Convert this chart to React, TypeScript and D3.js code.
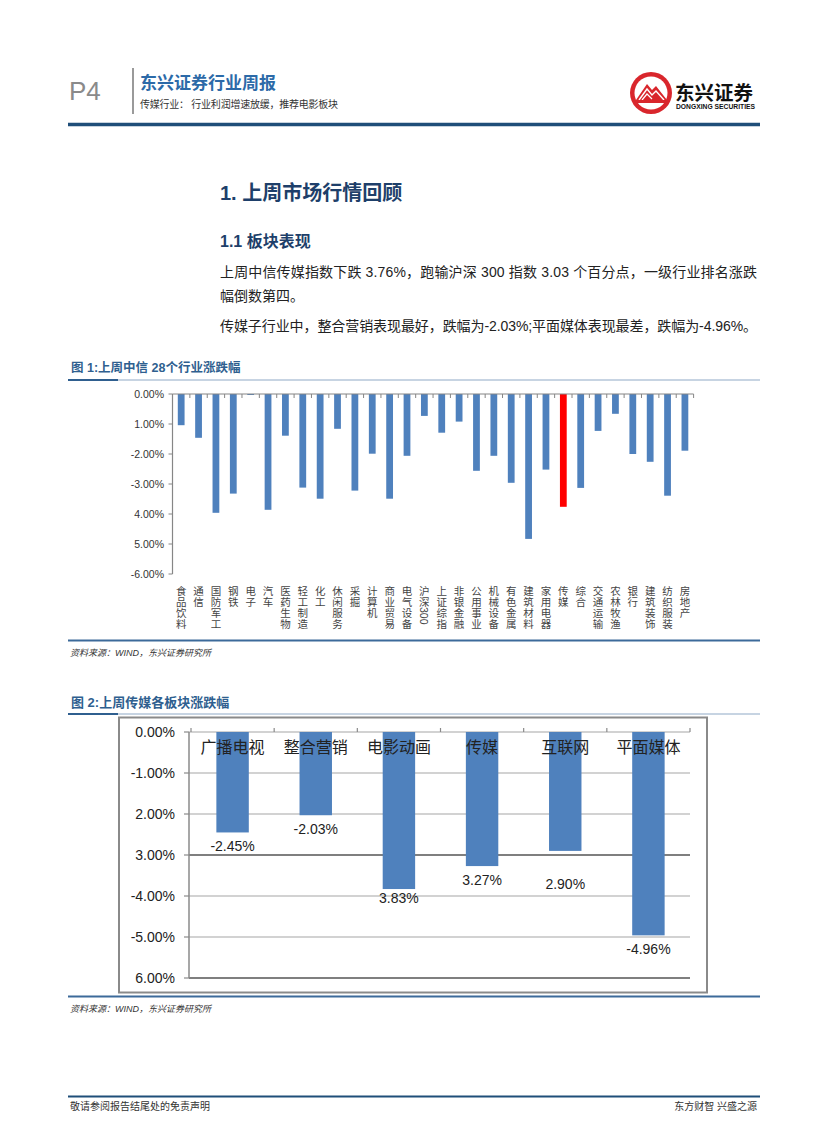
import React from "react";
import * as d3 from "d3";

// ---------- Data ----------
const industries = [
  "食品饮料", "通信", "国防军工", "钢铁", "电子", "汽车", "医药生物", "轻工制造", "化工", "休闲服务",
  "采掘", "计算机", "商业贸易", "电气设备", "沪深300", "上证综指", "非银金融", "公用事业", "机械设备", "有色金属",
  "建筑材料", "家用电器", "传媒", "综合", "交通运输", "农林牧渔", "银行", "建筑装饰", "纺织服装", "房地产",
];
const industryChange = [
  -1.04, -1.46, -3.96, -3.32, -0.03, -3.86, -1.39, -3.12, -3.49, -1.16,
  -3.22, -1.99, -3.49, -2.06, -0.73, -1.29, -0.92, -2.56, -2.06, -2.96,
  -4.83, -2.52, -3.76, -3.13, -1.23, -0.66, -2.0, -2.26, -3.39, -1.89,
];
const highlightIndustry = "传媒";
const industryTickValues = [0, -1, -2, -3, -4, -5, -6];
const industryTickLabels = ["0.00%", "1.00%", "-2.00%", "-3.00%", "4.00%", "5.00%", "-6.00%"];

const sectors = ["广播电视", "整合营销", "电影动画", "传媒", "互联网", "平面媒体"];
const sectorChange = [-2.45, -2.03, -3.83, -3.27, -2.9, -4.96];
const sectorValueLabels = ["-2.45%", "-2.03%", "3.83%", "3.27%", "2.90%", "-4.96%"];
const sectorTickValues = [0, -1, -2, -3, -4, -5, -6];
const sectorTickLabels = ["0.00%", "-1.00%", "2.00%", "3.00%", "-4.00%", "-5.00%", "6.00%"];
const sectorLabelDy = [14, 14, 9, 14, 33, 14];

// ---------- Styles ----------
const LATIN = "'Liberation Sans', Arial, 'Noto Sans CJK SC', sans-serif";
const CJK = "'Liberation Sans', 'Noto Sans CJK SC', sans-serif";
const BAR = "#4f81bd";
const NAVY = "#1f4e79";

function StackedLabel({ label, cx, top }: { label: string; cx: number; top: number }) {
  const tokens = label.match(/[0-9]+|./g) || [];
  const step = 11;
  let y = top;
  const out: React.ReactNode[] = [];
  tokens.forEach((t, i) => {
    if (/^[0-9]+$/.test(t)) {
      const w = t.length * 5.9;
      out.push(
        <text key={i} transform={`translate(${cx},${y}) rotate(90)`} fontSize={10.5} fontFamily={LATIN}
          fill="#444" dominantBaseline="central">{t}</text>
      );
      y += w + 1;
    } else {
      out.push(
        <text key={i} x={cx} y={y + 9.5} fontSize={10.5} fontFamily={CJK} fill="#444" textAnchor="middle">{t}</text>
      );
      y += step;
    }
  });
  return <g>{out}</g>;
}

export default function App() {
  // Chart 1 scales
  const x1 = d3.scaleBand<string>().domain(industries).range([172.5, 693.6]).paddingInner(0.61).paddingOuter(0.305);
  const y1 = d3.scaleLinear().domain([0, -6]).range([394, 574]);
  const step1 = x1.step();
  const x1Start = x1.range()[0];
  const x1End = x1.range()[1];

  // Chart 2 scales
  const x2 = d3.scaleBand<string>().domain(sectors).range([191, 690]).paddingInner(0.61).paddingOuter(0.305);
  const y2 = d3.scaleLinear().domain([0, -6]).range([732, 978]);
  const step2 = x2.step();
  const x2Start = x2.range()[0];
  const x2End = x2.range()[1];
  const axis2X = 189;

  return (
    <svg width={827} height={1122} viewBox="0 0 827 1122"
      style={{ position: "absolute", left: 0, top: 0, background: "#fff" }}>
      <rect x={0} y={0} width={827} height={1122} fill="#fff" />

      {/* Header */}
      <text x={69} y={100} fontSize={26} fill="#8a8a8a" fontFamily={LATIN}>P4</text>
      <line x1={133} x2={133} y1={68} y2={114} stroke="#9a9a9a" strokeWidth={2} />
      <text x={140} y={89} fontSize={17} fontWeight="bold" fill="#2c6aa8" fontFamily={CJK}>东兴证券行业周报</text>
      <text x={140} y={108} fontSize={10} fill="#333" fontFamily={CJK} textLength={198} lengthAdjust="spacing">传媒行业： 行业利润增速放缓，推荐电影板块</text>

      {/* Logo */}
      <g>
        <circle cx={651} cy={93} r={21} fill="#d9262c" />
        <circle cx={651} cy={93} r={16.5} fill="#fff" />
        <path d="M636,100 L647,84 L652,90 L656,86 L667,100 Z" fill="#d9262c" />
        <path d="M639,100 L647,89 L652,95 L656,91 L664,100" fill="none" stroke="#fff" strokeWidth={1.4} />
        <path d="M642,100 L647,94 L652,99" fill="none" stroke="#fff" strokeWidth={1.2} />
        <rect x={634} y={100} width={34} height={3} fill="#d9262c" />
      </g>
      <text x={675} y={100} fontSize={19} fontWeight="bold" fill="#111" fontFamily={CJK} textLength={78} lengthAdjust="spacingAndGlyphs">东兴证券</text>
      <text x={676} y={109} fontSize={6.5} fontWeight="bold" fill="#111" fontFamily={LATIN} textLength={79} lengthAdjust="spacingAndGlyphs">DONGXING SECURITIES</text>

      <line x1={68} x2={760} y1={124.5} y2={124.5} stroke={NAVY} strokeWidth={3.5} />

      {/* Headings and paragraphs */}
      <text x={220} y={200} fontSize={20} fontWeight="bold" fill="#1e3f6a" fontFamily={CJK}>1. 上周市场行情回顾</text>
      <text x={220} y={247} fontSize={16} fontWeight="bold" fill="#1e3f6a" fontFamily={CJK}>1.1 板块表现</text>
      <text x={220} y={277} fontSize={14} fill="#222" fontFamily={CJK} textLength={537} lengthAdjust="spacing">上周中信传媒指数下跌 3.76%，跑输沪深 300 指数 3.03 个百分点，一级行业排名涨跌</text>
      <text x={220} y={301} fontSize={14} fill="#222" fontFamily={CJK}>幅倒数第四。</text>
      <text x={220} y={331} fontSize={14} fill="#222" fontFamily={CJK} textLength={537} lengthAdjust="spacing">传媒子行业中，整合营销表现最好，跌幅为-2.03%;平面媒体表现最差，跌幅为-4.96%。</text>

      {/* Figure 1 title */}
      <text x={71} y={372} fontSize={12.5} fontWeight="bold" fill="#2f5f8f" fontFamily={CJK}>图 1:上周中信 28个行业涨跌幅</text>
      <line x1={68} x2={760} y1={380} y2={380} stroke="#8fa9c6" strokeWidth={1} />
      <line x1={68} x2={118} y1={380} y2={380} stroke="#2f5f8f" strokeWidth={2} />

      {/* Chart 1 */}
      <g>
        {industries.map((d, i) => {
          const v = industryChange[i];
          const yTop = y1(0);
          const yBot = y1(v);
          return (
            <rect key={d} x={x1(d)} y={yTop} width={x1.bandwidth()} height={Math.max(1, yBot - yTop)}
              fill={d === highlightIndustry ? "#ff0000" : BAR} />
          );
        })}
        {/* x axis at zero */}
        <line x1={x1Start} x2={x1End} y1={y1(0)} y2={y1(0)} stroke="#868686" strokeWidth={1.2} />
        {d3.range(industries.length + 1).map((k) => (
          <line key={k} x1={x1Start + k * step1} x2={x1Start + k * step1} y1={y1(0)} y2={y1(0) + 4} stroke="#868686" strokeWidth={1} />
        ))}
        {/* y axis */}
        <line x1={x1Start} x2={x1Start} y1={y1(0)} y2={y1(-6)} stroke="#868686" strokeWidth={1.2} />
        {industryTickValues.map((t, i) => (
          <g key={t}>
            <line x1={x1Start - 4} x2={x1Start} y1={y1(t)} y2={y1(t)} stroke="#868686" strokeWidth={1} />
            <text x={164} y={y1(t) + 3.8} fontSize={10.5} textAnchor="end" fill="#333" fontFamily={LATIN}>{industryTickLabels[i]}</text>
          </g>
        ))}
        {industries.map((d) => (
          <StackedLabel key={d} label={d} cx={(x1(d) as number) + x1.bandwidth() / 2} top={585} />
        ))}
      </g>

      <line x1={68} x2={760} y1={640.5} y2={640.5} stroke="#3c6a9a" strokeWidth={2} />
      <text x={70} y={656} fontSize={9} fontStyle="italic" fill="#333" fontFamily={CJK}>资料来源：WIND，东兴证券研究所</text>

      {/* Figure 2 title */}
      <text x={71} y={707} fontSize={13} fontWeight="bold" fill="#2f5f8f" fontFamily={CJK}>图 2:上周传媒各板块涨跌幅</text>
      <line x1={68} x2={760} y1={714} y2={714} stroke="#8fa9c6" strokeWidth={1} />
      <line x1={68} x2={118} y1={714} y2={714} stroke="#2f5f8f" strokeWidth={2} />

      {/* Chart 2 */}
      <g>
        <rect x={119} y={717.5} width={588} height={275} fill="#fff" stroke="#8a8a8a" strokeWidth={2} />
        {sectorTickValues.map((t, i) => (
          <g key={t}>
            <line x1={axis2X} x2={x2End} y1={y2(t)} y2={y2(t)}
              stroke={t === -3 || t === -6 ? "#7f7f7f" : "#a6a6a6"} strokeWidth={t === -3 || t === -6 ? 2 : 1.2} />
            <line x1={axis2X - 5} x2={axis2X} y1={y2(t)} y2={y2(t)} stroke="#8a8a8a" strokeWidth={1.2} />
            <text x={175} y={y2(t) + 5} fontSize={14} textAnchor="end" fill="#222" fontFamily={LATIN}>{sectorTickLabels[i]}</text>
          </g>
        ))}
        <line x1={axis2X} x2={axis2X} y1={y2(0)} y2={y2(-6)} stroke="#8a8a8a" strokeWidth={1.5} />
        {d3.range(sectors.length + 1).map((k) => (
          <line key={k} x1={x2Start + k * step2} x2={x2Start + k * step2} y1={y2(0) - 4} y2={y2(0)} stroke="#8a8a8a" strokeWidth={1.2} />
        ))}
        {sectors.map((d, i) => {
          const v = sectorChange[i];
          return (
            <rect key={d} x={x2(d)} y={y2(0)} width={x2.bandwidth()} height={y2(v) - y2(0)} fill={BAR} />
          );
        })}
        {sectors.map((d, i) => {
          const cx = (x2(d) as number) + x2.bandwidth() / 2;
          return (
            <g key={d}>
              <text x={cx} y={753} fontSize={16} textAnchor="middle" fill="#222" fontFamily={CJK}>{d}</text>
              <text x={cx} y={y2(sectorChange[i]) + sectorLabelDy[i] + 5} fontSize={14} textAnchor="middle" fill="#222" fontFamily={LATIN}>{sectorValueLabels[i]}</text>
            </g>
          );
        })}
      </g>

      <line x1={68} x2={760} y1={996.5} y2={996.5} stroke="#3c6a9a" strokeWidth={2} />
      <text x={70} y={1012} fontSize={9} fontStyle="italic" fill="#333" fontFamily={CJK}>资料来源：WIND，东兴证券研究所</text>

      {/* Footer */}
      <line x1={68} x2={760} y1={1096.5} y2={1096.5} stroke={NAVY} strokeWidth={2} />
      <text x={70} y={1110} fontSize={10} fill="#333" fontFamily={CJK}>敬请参阅报告结尾处的免责声明</text>
      <text x={757} y={1110} fontSize={10} fill="#333" fontFamily={CJK} textAnchor="end">东方财智 兴盛之源</text>
    </svg>
  );
}
